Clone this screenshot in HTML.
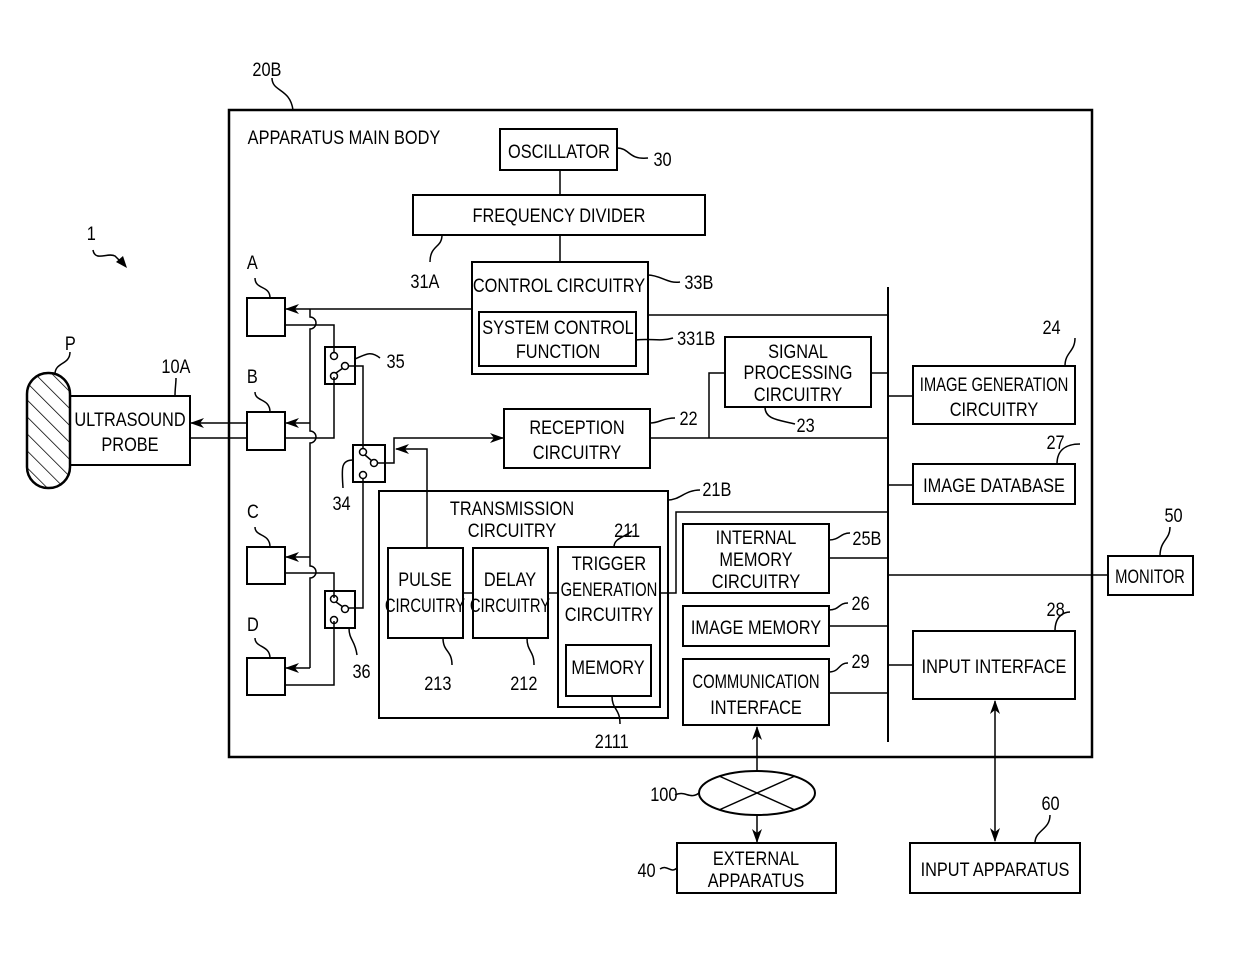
<!DOCTYPE html>
<html><head><meta charset="utf-8"><style>
html,body{margin:0;padding:0;background:#fff}
svg{display:block}
text{font-family:"Liberation Sans Narrow","Liberation Sans",sans-serif;font-size:19px;fill:#000;transform-box:fill-box;transform-origin:center;transform:scaleX(.86)}
.c{text-anchor:middle}
.s{transform:scaleX(.78)}
</style></head><body>
<svg width="1240" height="957" viewBox="0 0 1240 957" xmlns="http://www.w3.org/2000/svg">
<defs>
<marker id="ar" markerWidth="14" markerHeight="10" refX="13" refY="5" orient="auto" markerUnits="userSpaceOnUse"><path d="M0,0 L14,5 L0,10 L4,5 z" fill="#000"/></marker>
<pattern id="hatch" width="12" height="12" patternUnits="userSpaceOnUse" patternTransform="rotate(-45)"><line x1="0" y1="0" x2="0" y2="12" stroke="#000" stroke-width="1.5"/></pattern>
</defs>
<g fill="none" stroke="#000" stroke-width="2">
<rect x="229" y="110" width="863" height="647" stroke-width="2.5"/>
<rect x="500" y="129" width="117" height="41"/>
<rect x="413" y="195" width="292" height="40"/>
<rect x="472" y="262" width="176" height="112"/>
<rect x="479" y="312" width="157" height="54"/>
<rect x="247" y="298" width="38" height="38"/>
<rect x="247" y="412" width="38" height="38"/>
<rect x="247" y="547" width="38" height="37"/>
<rect x="247" y="658" width="38" height="37"/>
<rect x="70" y="396" width="120" height="69"/>
<rect x="504" y="409" width="146" height="59"/>
<rect x="725" y="337" width="146" height="70"/>
<rect x="913" y="366" width="162" height="58"/>
<rect x="913" y="464" width="162" height="40"/>
<rect x="379" y="491" width="289" height="227"/>
<rect x="388" y="548" width="75" height="90"/>
<rect x="473" y="548" width="75" height="90"/>
<rect x="558" y="547" width="102" height="160"/>
<rect x="566" y="645" width="85" height="51"/>
<rect x="683" y="524" width="146" height="69"/>
<rect x="683" y="606" width="146" height="40"/>
<rect x="683" y="659" width="146" height="66"/>
<rect x="913" y="631" width="162" height="68"/>
<rect x="1108" y="556" width="85" height="39"/>
<rect x="677" y="843" width="159" height="50"/>
<rect x="910" y="843" width="170" height="50"/>
<rect x="325" y="347" width="30" height="37"/>
<rect x="353" y="445" width="32" height="37"/>
<rect x="325" y="591" width="30" height="37"/>
</g>
<rect x="27" y="373" width="43" height="115" rx="21" fill="url(#hatch)" stroke="#000" stroke-width="2.5"/>
<g fill="none" stroke="#000" stroke-width="1.5">
<line x1="560" y1="170" x2="560" y2="195"/>
<line x1="560" y1="235" x2="560" y2="262"/>
<line x1="888" y1="287" x2="888" y2="742" stroke-width="2"/>
<line x1="648" y1="315" x2="888" y2="315"/>
<line x1="650" y1="438" x2="888" y2="438"/>
<polyline points="725,373 709,373 709,438"/>
<line x1="871" y1="373" x2="888" y2="373"/>
<line x1="888" y1="396" x2="913" y2="396"/>
<line x1="888" y1="485" x2="913" y2="485"/>
<polyline points="660,593 676,593 676,512 888,512"/>
<line x1="829" y1="558" x2="888" y2="558"/>
<line x1="888" y1="575" x2="1108" y2="575"/>
<line x1="829" y1="626" x2="888" y2="626"/>
<line x1="888" y1="665" x2="913" y2="665"/>
<line x1="829" y1="693" x2="888" y2="693"/>
<line x1="463" y1="593" x2="473" y2="593"/>
<line x1="548" y1="593" x2="558" y2="593"/>
<line x1="472" y1="309" x2="286" y2="309" marker-end="url(#ar)"/>
<path d="M310,309 L310,317 A6,6 0 0 1 310,329 L310,431 A6,6 0 0 1 310,443 L310,566 A6,6 0 0 1 310,578 L310,668"/>
<line x1="310" y1="423" x2="286" y2="423" marker-end="url(#ar)"/>
<line x1="310" y1="557" x2="286" y2="557" marker-end="url(#ar)"/>
<line x1="310" y1="668" x2="286" y2="668" marker-end="url(#ar)"/>
<polyline points="285,325 334,325 334,353"/>
<polyline points="285,438 334,438 334,377"/>
<polyline points="285,573 334,573 334,598"/>
<polyline points="285,685 334,685 334,621"/>
<circle cx="334" cy="356" r="3.5"/><circle cx="334" cy="376" r="3.5"/><circle cx="345" cy="366" r="3.5"/><line x1="336" y1="373" x2="343" y2="368"/>
<circle cx="363" cy="452" r="3.5"/><circle cx="363" cy="475" r="3.5"/><circle cx="374" cy="463" r="3.5"/><line x1="365" y1="455" x2="372" y2="461"/>
<circle cx="334" cy="599" r="3.5"/><circle cx="334" cy="620" r="3.5"/><circle cx="345" cy="609" r="3.5"/><line x1="336" y1="602" x2="343" y2="607"/>
<polyline points="349,366 363,366 363,448"/>
<polyline points="363,479 363,608 349,608"/>
<polyline points="378,463 394,463 394,438 503,438" marker-end="url(#ar)"/>
<polyline points="427,548 427,449 396,449" marker-end="url(#ar)"/>
<line x1="247" y1="423" x2="191" y2="423" marker-end="url(#ar)"/>
<line x1="190" y1="438" x2="247" y2="438"/>
<ellipse cx="757" cy="793" rx="58" ry="22" stroke-width="2"/>
<line x1="719" y1="776" x2="795" y2="810"/><line x1="719" y1="810" x2="795" y2="776"/>
<line x1="757" y1="771" x2="757" y2="727" marker-end="url(#ar)"/>
<line x1="757" y1="815" x2="757" y2="842" marker-end="url(#ar)"/>
<line x1="995" y1="770" x2="995" y2="701" marker-end="url(#ar)"/>
<line x1="995" y1="770" x2="995" y2="841" marker-end="url(#ar)"/>
<path d="M272,78 C272,92 290,88 293,110"/>
<path d="M617,148 C630,148 628,160 648,158"/>
<path d="M442,235 C442,248 430,245 430,262"/>
<path d="M648,275 C660,275 668,284 680,282"/>
<path d="M636,340 C650,338 660,342 673,338"/>
<path d="M650,423 C660,423 662,418 675,418"/>
<path d="M765,407 C765,420 780,420 795,424"/>
<path d="M1065,366 C1065,352 1075,352 1075,338"/>
<path d="M1057,464 C1057,450 1066,444 1080,444"/>
<path d="M668,500 C680,500 685,490 700,490"/>
<path d="M614,547 C614,538 625,537 632,531"/>
<path d="M443,638 C443,652 452,650 452,665"/>
<path d="M527,638 C527,652 534,650 534,665"/>
<path d="M612,696 C612,710 620,708 620,724"/>
<path d="M829,540 C840,540 840,533 850,533"/>
<path d="M829,610 C840,610 838,603 848,603"/>
<path d="M829,672 C840,672 838,663 848,663"/>
<path d="M1055,631 C1055,615 1065,612 1070,612"/>
<path d="M1160,556 C1160,540 1170,540 1170,527"/>
<path d="M1035,843 C1035,830 1050,830 1050,815"/>
<path d="M675,795 C685,790 690,800 699,793"/>
<path d="M660,869 C668,864 670,874 677,868"/>
<path d="M355,359 C365,355 370,350 380,358"/>
<path d="M353,460 C340,460 342,470 343,488"/>
<path d="M349,628 C349,640 355,640 357,655"/>
<path d="M55,374 C55,362 70,365 70,352"/>
<path d="M175,396 C175,388 176,384 176,378"/>
<path d="M270,298 C270,285 255,290 255,278"/>
<path d="M270,412 C270,398 255,402 255,392"/>
<path d="M270,547 C270,533 255,537 255,527"/>
<path d="M270,658 C270,645 255,648 255,638"/>
<path d="M93,250 C95,262 108,252 115,256 L123,264"/>
</g>
<path d="M127,268 L116,262 L123,256 z" fill="#000"/>
<text x="250" y="76">20B</text>
<text x="232" y="144">APPARATUS MAIN BODY</text>
<text class="c" x="559" y="158">OSCILLATOR</text>
<text x="652" y="166">30</text>
<text class="c" x="559" y="222">FREQUENCY DIVIDER</text>
<text x="408" y="288">31A</text>
<text class="c" x="559" y="292">CONTROL CIRCUITRY</text>
<text x="682" y="289">33B</text>
<text class="c" x="558" y="334">SYSTEM CONTROL</text>
<text class="c" x="558" y="358">FUNCTION</text>
<text x="674" y="345">331B</text>
<text x="246" y="269">A</text>
<text x="246" y="383">B</text>
<text x="246" y="518">C</text>
<text x="246" y="631">D</text>
<text x="385" y="368">35</text>
<text x="331" y="510">34</text>
<text x="351" y="678">36</text>
<text x="64" y="350">P</text>
<text x="159" y="373">10A</text>
<text class="c" x="130" y="426">ULTRASOUND</text>
<text class="c" x="130" y="451">PROBE</text>
<text x="86" y="240">1</text>
<text class="c" x="577" y="434">RECEPTION</text>
<text class="c" x="577" y="459">CIRCUITRY</text>
<text x="678" y="425">22</text>
<text class="c" x="798" y="358">SIGNAL</text>
<text class="c" x="798" y="379">PROCESSING</text>
<text class="c" x="798" y="401">CIRCUITRY</text>
<text x="795" y="432">23</text>
<text class="c s" x="994" y="391">IMAGE GENERATION</text>
<text class="c" x="994" y="416">CIRCUITRY</text>
<text x="1041" y="334">24</text>
<text class="c" x="994" y="492">IMAGE DATABASE</text>
<text x="1045" y="449">27</text>
<text class="c" x="512" y="515">TRANSMISSION</text>
<text class="c" x="512" y="537">CIRCUITRY</text>
<text x="700" y="496">21B</text>
<text x="612" y="537">211</text>
<text class="c" x="609" y="570">TRIGGER</text>
<text class="c s" x="609" y="596">GENERATION</text>
<text class="c" x="609" y="621">CIRCUITRY</text>
<text class="c" x="608" y="674">MEMORY</text>
<text class="c" x="425" y="586">PULSE</text>
<text class="c s" x="425" y="612">CIRCUITRY</text>
<text class="c" x="510" y="586">DELAY</text>
<text class="c s" x="510" y="612">CIRCUITRY</text>
<text x="422" y="690">213</text>
<text x="508" y="690">212</text>
<text x="592" y="748">2111</text>
<text class="c" x="756" y="544">INTERNAL</text>
<text class="c" x="756" y="566">MEMORY</text>
<text class="c" x="756" y="588">CIRCUITRY</text>
<text x="850" y="545">25B</text>
<text class="c" x="756" y="634">IMAGE MEMORY</text>
<text x="850" y="610">26</text>
<text class="c s" x="756" y="688">COMMUNICATION</text>
<text class="c" x="756" y="714">INTERFACE</text>
<text x="850" y="668">29</text>
<text class="c" x="994" y="673">INPUT INTERFACE</text>
<text x="1045" y="616">28</text>
<text class="c s" x="1150" y="583">MONITOR</text>
<text x="648" y="801">100</text>
<text class="c" x="756" y="865">EXTERNAL</text>
<text class="c" x="756" y="887">APPARATUS</text>
<text x="636" y="877">40</text>
<text class="c" x="995" y="876">INPUT APPARATUS</text>
<text x="1040" y="810">60</text>
<text x="1163" y="522">50</text>
</svg>
</body></html>
